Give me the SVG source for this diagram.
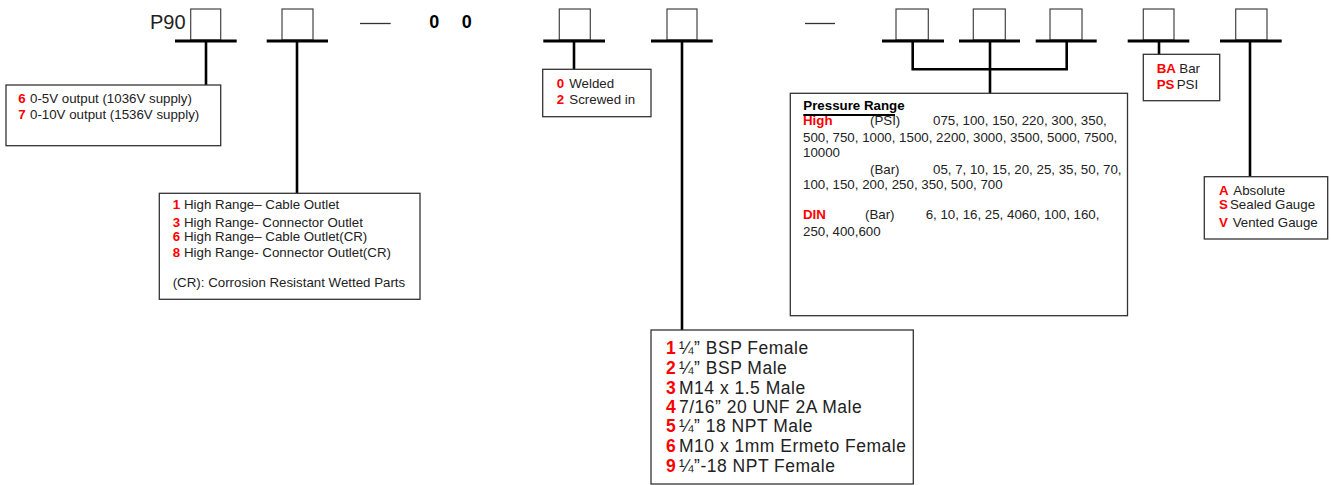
<svg xmlns="http://www.w3.org/2000/svg" width="1331" height="485" viewBox="0 0 1331 485">
<style>
.box{fill:#fff;stroke:#333;stroke-width:1.3}
.slot{fill:#fff;stroke:#444;stroke-width:1.2}
.bar{stroke:#000;stroke-width:3;fill:none}
.ln{stroke:#000;stroke-width:2.6;fill:none}
.dash{stroke:#333;stroke-width:1.3}
text{font-family:"Liberation Sans",Arial,sans-serif;font-size:13.3px;fill:#222}
.r{fill:#f00;font-weight:bold}
.big{font-size:17.5px;letter-spacing:0.5px}
</style>
<rect width="1331" height="485" fill="#fff"/>
<g id="header">
<text x="150" y="29.3" style="font-size:20px">P90</text>
<line class="dash" x1="360" y1="23.5" x2="390.7" y2="23.5"/>
<text x="429.3" y="28.3" style="font-size:18px;font-weight:bold;fill:#000">0</text>
<text x="461.7" y="28.3" style="font-size:18px;font-weight:bold;fill:#000">0</text>
<line class="dash" x1="805" y1="23.5" x2="835" y2="23.5"/>
</g>
<g id="slots">
<rect class="slot" x="190.7" y="9" width="30" height="31"/>
<rect class="slot" x="282" y="9" width="31" height="31"/>
<rect class="slot" x="559.3" y="9" width="31" height="31"/>
<rect class="slot" x="667" y="9" width="30" height="31"/>
<rect class="slot" x="896" y="9" width="32.3" height="31"/>
<rect class="slot" x="973.3" y="9" width="32" height="31"/>
<rect class="slot" x="1050" y="9" width="32" height="31"/>
<rect class="slot" x="1143.3" y="9" width="30.7" height="31"/>
<rect class="slot" x="1235.7" y="9" width="31.3" height="31"/>
</g>
<g id="connectors">
<line class="bar" x1="175" y1="41" x2="236.7" y2="41"/>
<line class="bar" x1="266.7" y1="41" x2="328" y2="41"/>
<line class="bar" x1="543.3" y1="41" x2="605" y2="41"/>
<line class="bar" x1="651" y1="41" x2="712.7" y2="41"/>
<line class="bar" x1="882" y1="41" x2="944" y2="41"/>
<line class="bar" x1="959" y1="41" x2="1020" y2="41"/>
<line class="bar" x1="1035.7" y1="41" x2="1096.7" y2="41"/>
<line class="bar" x1="1127.7" y1="41" x2="1189.3" y2="41"/>
<line class="bar" x1="1220" y1="41" x2="1281.7" y2="41"/>
<line class="ln" x1="206" y1="41" x2="206" y2="85"/>
<line class="ln" x1="297" y1="41" x2="297" y2="193.3"/>
<line class="ln" x1="574" y1="41" x2="574" y2="69.3"/>
<line class="ln" x1="682" y1="41" x2="682" y2="330"/>
<polyline class="ln" points="912.7,41 912.7,69.3 1066.7,69.3 1066.7,41"/>
<line class="ln" x1="990" y1="41" x2="990" y2="93.3"/>
<line class="ln" x1="1159" y1="41" x2="1159" y2="54.3"/>
<line class="ln" x1="1250" y1="41" x2="1250" y2="176.7"/>
</g>
<g id="output">
<rect class="box" x="6" y="85" width="214.7" height="60.7"/>
<text y="103.3"><tspan class="r" x="18.3">6</tspan><tspan x="30">0-5V output (1036V supply)</tspan></text>
<text y="119.3"><tspan class="r" x="18.3">7</tspan><tspan x="30">0-10V output (1536V supply)</tspan></text>
</g>
<g id="range">
<rect class="box" x="159.3" y="193.3" width="260.7" height="106"/>
<text y="209.3"><tspan class="r" x="172.7">1</tspan><tspan x="184">High Range– Cable Outlet</tspan></text>
<text y="226.7"><tspan class="r" x="172.7">3</tspan><tspan x="184">High Range- Connector Outlet</tspan></text>
<text y="240.7"><tspan class="r" x="172.7">6</tspan><tspan x="184">High Range– Cable Outlet(CR)</tspan></text>
<text y="257.3"><tspan class="r" x="172.7">8</tspan><tspan x="184">High Range- Connector Outlet(CR)</tspan></text>
<text x="172.7" y="287.3">(CR): Corrosion Resistant Wetted Parts</text>
</g>
<g id="welded">
<rect class="box" x="542.7" y="69.3" width="108.3" height="47.4"/>
<text y="87.7"><tspan class="r" x="556.7">0</tspan><tspan x="569.3">Welded</tspan></text>
<text y="104"><tspan class="r" x="556.7">2</tspan><tspan x="569.3">Screwed in</tspan></text>
</g>
<g id="pressure">
<rect class="box" x="790.3" y="93.3" width="337.2" height="222.4"/>
<text x="803.3" y="110" style="font-weight:bold;fill:#000">Pressure Range</text>
<line x1="803.3" y1="115" x2="895" y2="115" stroke="#000" stroke-width="2"/>
<text y="125"><tspan class="r" x="803">High</tspan><tspan x="870">(PSI)</tspan><tspan x="933">075, 100, 150, 220, 300, 350,</tspan></text>
<text x="803" y="142.3">500, 750, 1000, 1500, 2200, 3000, 3500, 5000, 7500,</text>
<text x="803" y="156.7">10000</text>
<text y="174.3"><tspan x="870">(Bar)</tspan><tspan x="933">05, 7, 10, 15, 20, 25, 35, 50, 70,</tspan></text>
<text x="803" y="189">100, 150, 200, 250, 350, 500, 700</text>
<text y="219.3"><tspan class="r" x="803">DIN</tspan><tspan x="865">(Bar)</tspan><tspan x="925.7">6, 10, 16, 25, 4060, 100, 160,</tspan></text>
<text x="803" y="235.7">250, 400,600</text>
</g>
<g id="units">
<rect class="box" x="1143.3" y="54.3" width="76.4" height="46.4"/>
<text y="72.7"><tspan class="r" x="1156.7">BA</tspan><tspan x="1179.3">Bar</tspan></text>
<text y="88.7"><tspan class="r" x="1156.7">PS</tspan><tspan x="1176.7">PSI</tspan></text>
</g>
<g id="type">
<rect class="box" x="1204.3" y="176.7" width="123.4" height="62.3"/>
<text y="195"><tspan class="r" x="1219">A</tspan><tspan x="1233.3">Absolute</tspan></text>
<text y="209.3"><tspan class="r" x="1219">S</tspan><tspan x="1230">Sealed Gauge</tspan></text>
<text y="227.3"><tspan class="r" x="1219">V</tspan><tspan x="1232.7">Vented Gauge</tspan></text>
</g>
<g id="fitting">
<rect class="box" x="651" y="330" width="262.3" height="154"/>
<text class="big" y="354"><tspan class="r" x="666">1</tspan><tspan x="679">¼” BSP Female</tspan></text>
<text class="big" y="374"><tspan class="r" x="666">2</tspan><tspan x="679">¼” BSP Male</tspan></text>
<text class="big" y="394"><tspan class="r" x="666">3</tspan><tspan x="679">M14 x 1.5 Male</tspan></text>
<text class="big" y="413.3"><tspan class="r" x="666">4</tspan><tspan x="679">7/16” 20 UNF 2A Male</tspan></text>
<text class="big" y="432.3"><tspan class="r" x="666">5</tspan><tspan x="679">¼” 18 NPT Male</tspan></text>
<text class="big" y="452.3"><tspan class="r" x="666">6</tspan><tspan x="679">M10 x 1mm Ermeto Female</tspan></text>
<text class="big" y="471.7"><tspan class="r" x="666">9</tspan><tspan x="679">¼”-18 NPT Female</tspan></text>
</g>
</svg>
